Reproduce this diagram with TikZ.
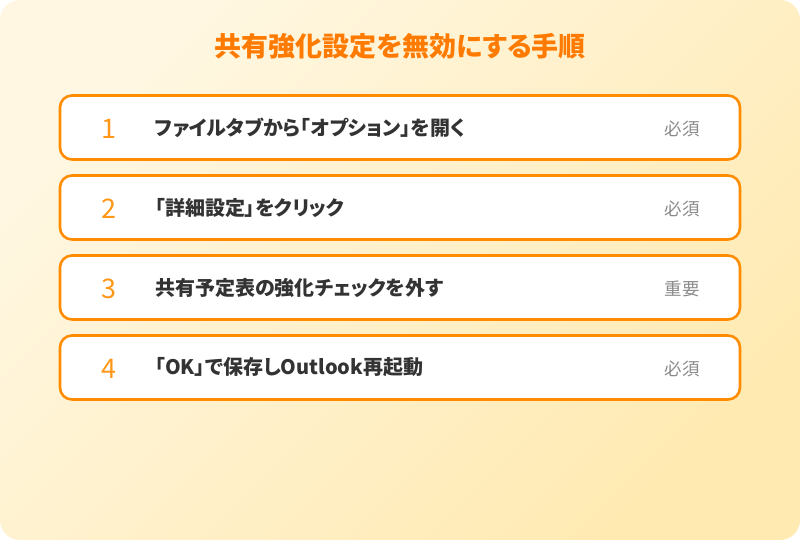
\documentclass[tikz,border=0pt]{standalone}
\usepackage{fontspec}
\setmainfont{Noto Sans CJK JP}[RawFeature=+palt]
\usepackage{tikz}
\usetikzlibrary{positioning}
\definecolor{bglight}{HTML}{FFF7E2}
\definecolor{bgdark}{HTML}{FFEAB2}
\definecolor{stepline}{HTML}{FF8C00}
\definecolor{titleorange}{HTML}{FF7A00}
\definecolor{steptext}{HTML}{333333}
\definecolor{taggray}{HTML}{8A8A8A}

\begin{document}
\begin{tikzpicture}[x=1pt, y=-1pt,
    stepbox/.style={draw=stepline, line width=2.6pt, fill=white, rounded corners=12pt, minimum width=680pt, minimum height=64pt, inner sep=0pt},
    stepnum/.style={text=stepline!90!white, font=\fontsize{27}{27}\selectfont, anchor=center},
    steplabel/.style={text=steptext, font=\fontsize{20}{20}\selectfont\bfseries, anchor=west, inner sep=0pt},
    steptag/.style={text=taggray, font=\fontsize{17.5}{18}\selectfont, anchor=center}]
      \useasboundingbox (0,0) rectangle (800,540);
      \fill[white] (0,0) rectangle (800,540);
      \shade[rounded corners=20pt, left color=bglight, right color=bgdark, shading angle=45] (0,0) rectangle (800,540);
      \node[text=titleorange, font=\fontsize{27}{27}\selectfont\bfseries] (title) at (400,46) {共有強化設定を無効にする手順};
      \node[stepbox] (box1) at (400,127.5) {};
      \node[stepnum] (num1) at (109,128.5) {1};
      \node[steplabel] (lbl1) at (155,127.5) {ファイルタブから「オプション」を開く};
      \node[steptag] (tag1) at (682,128.5) {必須};
      \node[stepbox] (box2) at (400,207.5) {};
      \node[stepnum] (num2) at (109,208.5) {2};
      \node[steplabel] (lbl2) at (155,207.5) {「詳細設定」をクリック};
      \node[steptag] (tag2) at (682,208.5) {必須};
      \node[stepbox] (box3) at (400,287.5) {};
      \node[stepnum] (num3) at (109,288.5) {3};
      \node[steplabel] (lbl3) at (155,287.5) {共有予定表の強化チェックを外す};
      \node[steptag] (tag3) at (682,288.5) {重要};
      \node[stepbox] (box4) at (400,367.5) {};
      \node[stepnum] (num4) at (109,368.5) {4};
      \node[steplabel] (lbl4) at (155,367.5) {「OK」で保存しOutlook再起動};
      \node[steptag] (tag4) at (682,368.5) {必須};
  \end{tikzpicture}
\end{document}
